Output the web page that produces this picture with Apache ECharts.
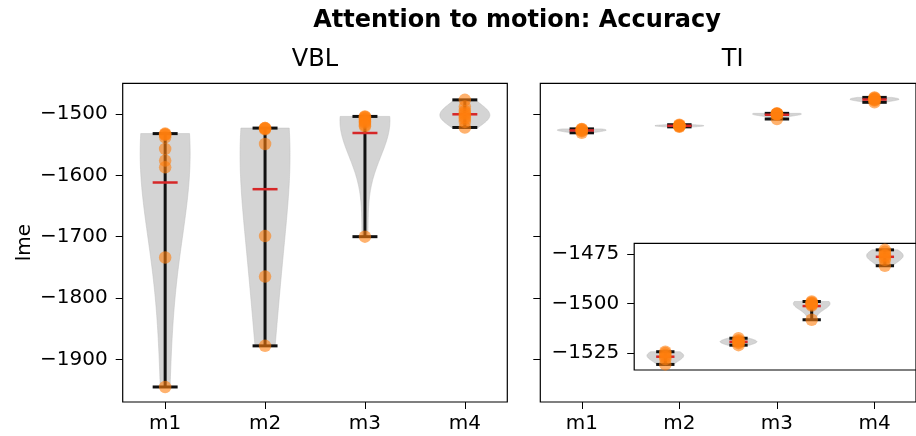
<!DOCTYPE html>
<html>
<head>
<meta charset="utf-8">
<script src="https://cdn.jsdelivr.net/npm/echarts@6/dist/echarts.min.js"></script>
<style>html,body{margin:0;padding:0;background:#fff}#c{width:916px;height:436px}</style>
</head>
<body>
<div id="c"></div>
<script>
// ---- data ----
const categories = ['m1', 'm2', 'm3', 'm4'];
const vblM1 = [-1532, -1533, -1534, -1538, -1557, -1576, -1587, -1734, -1945];
const vblM2 = [-1523, -1523, -1524, -1525, -1549, -1699, -1765, -1878];
const vblM3 = [-1504, -1505, -1506, -1508, -1510, -1512, -1514, -1518, -1520, -1700];
const vblM4 = [-1477, -1488, -1495, -1498, -1501, -1505, -1508, -1513, -1522];
const vblMeans = [-1611.7, -1622.6, -1531, -1500.5];
const tiM1 = [-1524.3, -1525, -1526, -1527, -1528, -1530.7];
const tiM2 = [-1517.5, -1518.5, -1519, -1519.5, -1520, -1521];
const tiM3 = [-1499, -1499.5, -1500, -1500, -1500.5, -1501, -1508.2];
const tiM4 = [-1473, -1474, -1475.5, -1476, -1477, -1478, -1481];
const tiMeans = [-1526.8, -1519.3, -1501.3, -1476.5];
const yTicks = [-1900, -1800, -1700, -1600, -1500];
const insetTicks = [-1525, -1500, -1475];

const vblGroups = [vblM1, vblM2, vblM3, vblM4];
const tiGroups = [tiM1, tiM2, tiM3, tiM4];

const FONT = 'DejaVu Sans';
const BW_FACTOR = 1.0; // kde bandwidth factor (bw_method scalar)
const minus = v => String(v).replace('-', '\u2212');

// gaussian KDE evaluated between min and max, as matplotlib's violinplot
function kde(vals) {
  const n = vals.length;
  const mean = vals.reduce((a, b) => a + b, 0) / n;
  const sd = Math.sqrt(vals.reduce((a, b) => a + (b - mean) * (b - mean), 0) / (n - 1));
  const bw = sd * BW_FACTOR;
  const lo = Math.min(...vals), hi = Math.max(...vals);
  const coords = [], dens = [];
  for (let k = 0; k < 100; k++) {
    const c = lo + (hi - lo) * k / 99;
    let s = 0;
    vals.forEach(v => { const z = (c - v) / bw; s += Math.exp(-0.5 * z * z); });
    coords.push(c); dens.push(s);
  }
  const mx = Math.max(...dens);
  return { coords, dens: dens.map(d => d / mx) };
}

function bodySeries(groups, xi, yi) {
  const k = groups.map(kde);
  return {
    type: 'custom', xAxisIndex: xi, yAxisIndex: yi, z: 1, silent: true,
    data: groups.map((g, i) => [i + 1, Math.min(...g), Math.max(...g)]),
    renderItem: (params, api) => {
      const i = params.dataIndex, pos = api.value(0), kk = k[i];
      const pts = [];
      for (let j = 0; j < kk.coords.length; j++) pts.push(api.coord([pos + 0.25 * kk.dens[j], kk.coords[j]]));
      for (let j = kk.coords.length - 1; j >= 0; j--) pts.push(api.coord([pos - 0.25 * kk.dens[j], kk.coords[j]]));
      return { type: 'polygon', shape: { points: pts }, style: { fill: 'rgba(170,170,170,0.5)', stroke: 'rgba(190,190,190,0.5)', lineWidth: 1 } };
    }
  };
}

function lineSeries(groups, means, xi, yi) {
  return {
    type: 'custom', xAxisIndex: xi, yAxisIndex: yi, z: 2, silent: true,
    data: groups.map((g, i) => [i + 1, Math.min(...g), Math.max(...g), means[i]]),
    renderItem: (params, api) => {
      const pos = api.value(0), lo = api.value(1), hi = api.value(2), mn = api.value(3);
      const c = (x, y) => api.coord([x, y]);
      const ln = (a, b, col, w) => ({ type: 'line', shape: { x1: a[0], y1: a[1], x2: b[0], y2: b[1] }, style: { stroke: col, lineWidth: w } });
      return { type: 'group', children: [
        ln(c(pos, lo), c(pos, hi), '#111', 3),
        ln(c(pos - 0.125, lo), c(pos + 0.125, lo), '#111', 3),
        ln(c(pos - 0.125, hi), c(pos + 0.125, hi), '#111', 3),
        ln(c(pos - 0.125, mn), c(pos + 0.125, mn), '#d62728', 2.5)
      ] };
    }
  };
}

function pointSeries(groups, xi, yi) {
  const data = [];
  groups.forEach((g, i) => g.forEach(v => data.push([i + 1, v])));
  return {
    type: 'scatter', xAxisIndex: xi, yAxisIndex: yi, z: 3, silent: true,
    symbolSize: 12.5, itemStyle: { color: '#ff7f0e', opacity: 0.6 }, data
  };
}

const tickStyle = { show: true, inside: false, length: 7, lineStyle: { color: '#000', width: 1 } };
const labelStyle = { color: '#000', fontFamily: FONT, fontSize: 20 };

function xAx(gi, labels) {
  return {
    type: 'value', gridIndex: gi, min: 0.575, max: 4.425,
    splitLine: { show: false }, axisLine: { show: false },
    axisTick: labels ? Object.assign({ customValues: [1, 2, 3, 4] }, tickStyle) : { show: false },
    axisLabel: labels ? Object.assign({ customValues: [1, 2, 3, 4], margin: 12, formatter: v => categories[Math.round(v) - 1] }, labelStyle) : { show: false }
  };
}
function yAx(gi, min, max, ticks, labels, extra) {
  return Object.assign({
    type: 'value', gridIndex: gi, min, max,
    splitLine: { show: false }, axisLine: { show: false },
    axisTick: Object.assign({ customValues: ticks }, tickStyle),
    axisLabel: labels ? Object.assign({ customValues: ticks, margin: 15, formatter: minus }, labelStyle) : { show: false }
  }, extra || {});
}

const gridBase = { show: true, borderColor: '#000', borderWidth: 1.2, backgroundColor: '#fff', containLabel: false };

const chart = echarts.init(document.getElementById('c'), null, { renderer: 'canvas' });
chart.setOption({
  animation: false,
  backgroundColor: '#fff',
  graphic: [
    { type: 'text', x: 517, y: 21, style: { text: 'Attention to motion: Accuracy', font: 'bold 24px "DejaVu Sans"', fill: '#000', textAlign: 'center', textVerticalAlign: 'middle' } },
    { type: 'text', x: 315, y: 60, style: { text: 'VBL', font: '24px "DejaVu Sans"', fill: '#000', textAlign: 'center', textVerticalAlign: 'middle' } },
    { type: 'text', x: 732.7, y: 60, style: { text: 'TI', font: '24px "DejaVu Sans"', fill: '#000', textAlign: 'center', textVerticalAlign: 'middle' } }
  ],
  grid: [
    Object.assign({ left: 122.7, top: 83.3, width: 384.6, height: 318.7 }, gridBase),
    Object.assign({ left: 540.3, top: 83.3, width: 384.6, height: 318.7 }, gridBase),
    Object.assign({ left: 634.2, top: 243.3, width: 288.75, height: 126.7, z: 5 }, gridBase)
  ],
  xAxis: [xAx(0, true), xAx(1, true), xAx(2, false)],
  yAxis: [
    yAx(0, -1969.5, -1450, yTicks, true, { name: 'lme', nameLocation: 'middle', nameRotate: 90, nameGap: 88, nameTextStyle: { color: '#000', fontFamily: FONT, fontSize: 20 } }),
    yAx(1, -1969.5, -1450, yTicks, false),
    yAx(2, -1533.5, -1469.7, insetTicks, true)
  ],
  series: [
    bodySeries(vblGroups, 0, 0), lineSeries(vblGroups, vblMeans, 0, 0), pointSeries(vblGroups, 0, 0),
    bodySeries(tiGroups, 1, 1), lineSeries(tiGroups, tiMeans, 1, 1), pointSeries(tiGroups, 1, 1),
    Object.assign(bodySeries(tiGroups, 2, 2), { z: 6 }), Object.assign(lineSeries(tiGroups, tiMeans, 2, 2), { z: 7 }), Object.assign(pointSeries(tiGroups, 2, 2), { z: 8 })
  ]
});
</script>
</body>
</html>
